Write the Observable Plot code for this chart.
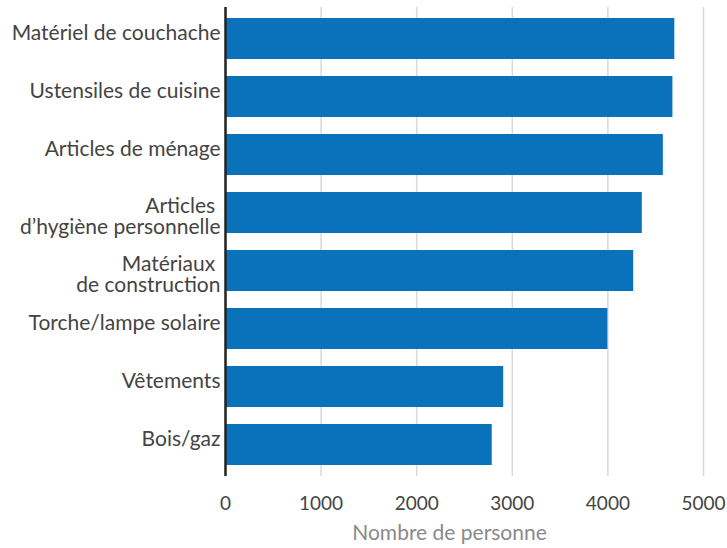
<!DOCTYPE html>
<html>
<head>
<meta charset="utf-8">
<script src="https://cdn.jsdelivr.net/npm/d3@7"></script>
<script src="https://cdn.jsdelivr.net/npm/@observablehq/plot@0.6"></script>
<style>
  html, body { margin: 0; padding: 0; background: #fff; }
  svg { font-family: Lato, "Open Sans", sans-serif; }
</style>
</head>
<body>
<div id="chart"></div>
<script>
const categories = [
  "Matériel de couchache",
  "Ustensiles de cuisine",
  "Articles de ménage",
  "Articles\u00a0\nd’hygiène personnelle",
  "Matériaux\u00a0\nde construction",
  "Torche/lampe solaire",
  "Vêtements",
  "Bois/gaz"
];
const values = [4700, 4680, 4580, 4360, 4270, 4000, 2910, 2790];
const xTicks = [0, 1000, 2000, 3000, 4000, 5000];
const xLabel = "Nombre de personne";

const data = categories.map((c, i) => ({cat: c, val: values[i]}));
const singleLine = categories.filter(c => !c.includes("\n"));
const multiLine = categories.filter(c => c.includes("\n"));

const chart = Plot.plot({
  width: 727,
  height: 548,
  marginLeft: 225,
  marginRight: 24,
  marginTop: 7,
  marginBottom: 72,
  style: {fontFamily: "Lato, sans-serif", background: "#fff"},
  x: {domain: [0, 5000], ticks: xTicks},
  y: {domain: categories, paddingInner: 0.286, paddingOuter: 0.154},
  marks: [
    Plot.gridX(xTicks, {stroke: "#d9d9d9", strokeOpacity: 1, strokeWidth: 1.5}),
    Plot.barX(data, {x: "val", y: "cat", fill: "#0A72BA"}),
    Plot.ruleX([0], {stroke: "#222", strokeWidth: 2.5}),
    Plot.axisX(xTicks, {tickSize: 0, tickPadding: 20, fontSize: 19, fill: "#444", label: null, tickFormat: d => String(d)}),
    Plot.axisY(singleLine, {tickSize: 0, tickPadding: 5, fontSize: 21, fill: "#444", dy: -6, label: null}),
    Plot.axisY(multiLine, {tickSize: 0, tickPadding: 5, fontSize: 21, fill: "#444", lineHeight: 1, dy: 4, label: null}),
    Plot.text([xLabel], {frameAnchor: "bottom", dy: 63, dx: -15, fontSize: 21, fill: "#8a8a8a"})
  ]
});
document.getElementById("chart").appendChild(chart);
</script>
</body>
</html>
